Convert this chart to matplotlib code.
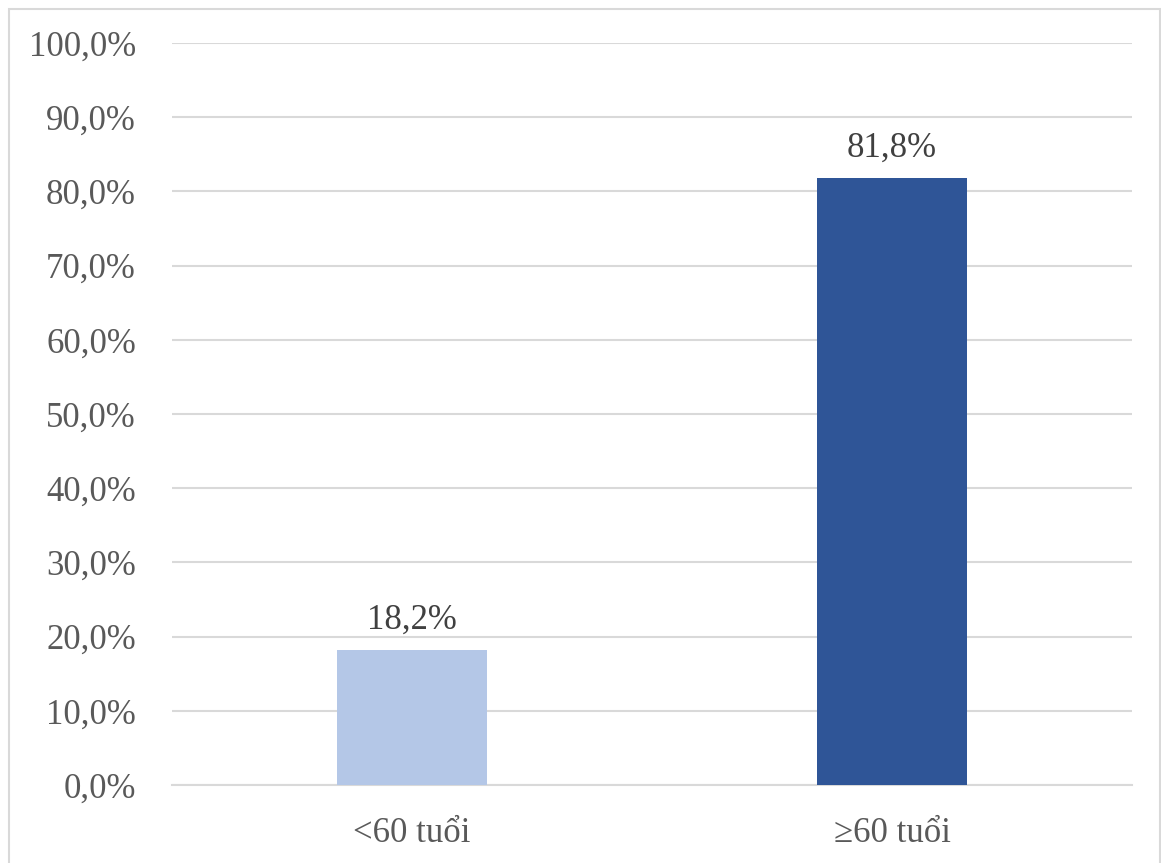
import matplotlib
matplotlib.use("Agg")
import matplotlib.pyplot as plt
from matplotlib.patches import Rectangle
from matplotlib.ticker import FuncFormatter

categories = ["<60 tuổi", "≥60 tuổi"]
values = [0.182, 0.818]
bar_colors = ["#B4C7E7", "#2F5597"]
yticks = [0.0, 0.1, 0.2, 0.3, 0.4, 0.5, 0.6, 0.7, 0.8, 0.9, 1.0]

plt.rcParams['font.family'] = ['Liberation Serif', 'DejaVu Serif']

fig = plt.figure(figsize=(11.61, 8.63), dpi=100)
ax = fig.add_axes([172/1161, 1-785/863, (1132-172)/1161, (785-43)/863])

x = list(range(len(categories)))
bars = ax.bar(x, values, width=0.3125, color=bar_colors, zorder=3)

ax.set_xlim(-0.5, len(categories) - 0.5)
ax.set_ylim(0, 1.0)
ax.set_yticks(yticks)
ax.yaxis.set_major_formatter(FuncFormatter(lambda v, p: f"{v*100:.1f}%".replace(".", ",")))
ax.set_xticks(x)
ax.set_xticklabels(categories)

ax.tick_params(axis='y', length=0, pad=26, labelsize=25, labelcolor="#595959")
ax.tick_params(axis='x', length=0, pad=23, labelsize=25, labelcolor="#595959")

ax.grid(axis='y', color="#D9D9D9", linewidth=1.5, zorder=0)
for s in ['top', 'right', 'left']:
    ax.spines[s].set_visible(False)
ax.spines['bottom'].set_color("#D9D9D9")
ax.spines['bottom'].set_linewidth(1.5)

for xi, v in zip(x, values):
    ax.annotate(f"{v*100:.1f}%".replace(".", ","), xy=(xi, v), xytext=(0, 15),
                textcoords='offset points', ha='center', va='baseline',
                fontsize=25, color="#404040")

fig.patches.append(Rectangle((9/1161, -0.01), (1160-9)/1161, 1-9/863+0.01,
                             transform=fig.transFigure, fill=False,
                             edgecolor="#D9D9D9", linewidth=1.5))

fig.savefig("out.png", dpi=100)
